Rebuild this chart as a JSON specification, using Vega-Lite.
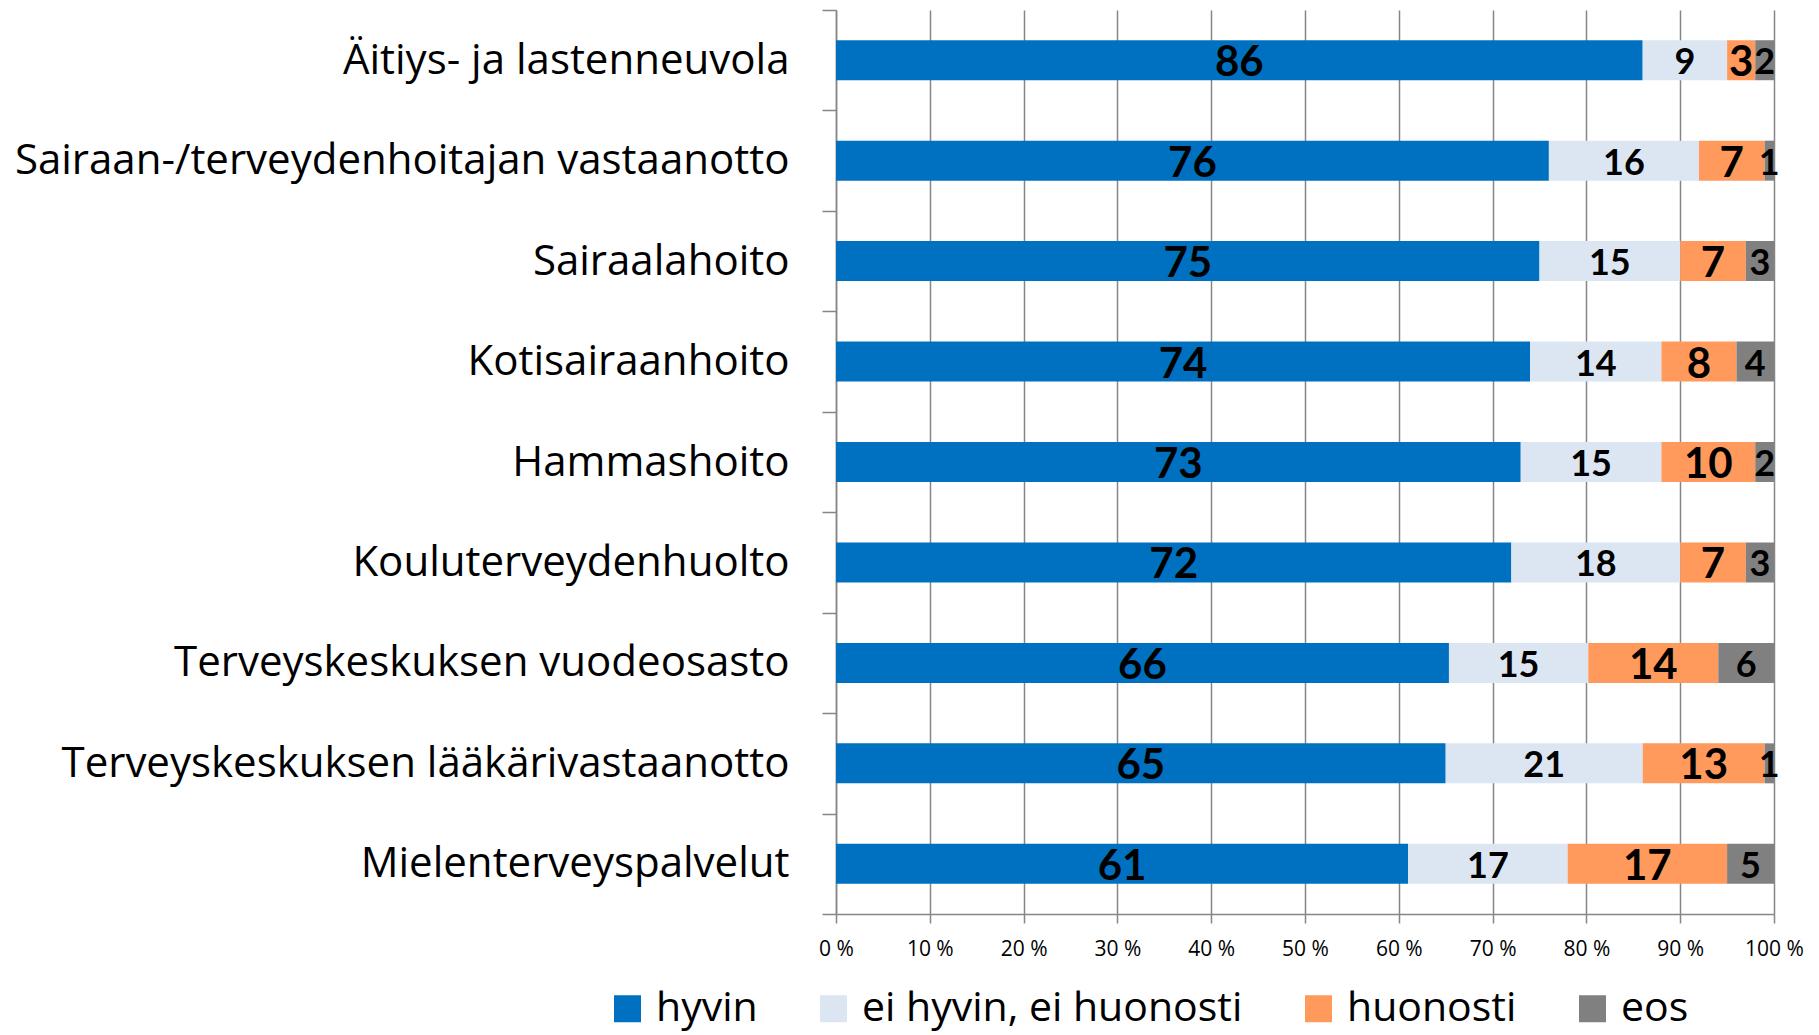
{
  "$schema": "https://vega.github.io/schema/vega-lite/v6.json",
  "autosize": "none",
  "padding": {"left": 836, "top": 10, "right": 45, "bottom": 121},
  "width": 938,
  "height": 904,
  "background": "white",
  "config": {
    "font": "Open Sans",
    "view": {"stroke": null}
  },
  "data": {
    "values": [
      {"cat": "Äitiys- ja lastenneuvola", "k": "hyvin", "o": 1, "v": 86},
      {"cat": "Äitiys- ja lastenneuvola", "k": "ei hyvin, ei huonosti", "o": 2, "v": 9},
      {"cat": "Äitiys- ja lastenneuvola", "k": "huonosti", "o": 3, "v": 3},
      {"cat": "Äitiys- ja lastenneuvola", "k": "eos", "o": 4, "v": 2},
      {"cat": "Sairaan-/terveydenhoitajan vastaanotto", "k": "hyvin", "o": 1, "v": 76},
      {"cat": "Sairaan-/terveydenhoitajan vastaanotto", "k": "ei hyvin, ei huonosti", "o": 2, "v": 16},
      {"cat": "Sairaan-/terveydenhoitajan vastaanotto", "k": "huonosti", "o": 3, "v": 7},
      {"cat": "Sairaan-/terveydenhoitajan vastaanotto", "k": "eos", "o": 4, "v": 1},
      {"cat": "Sairaalahoito", "k": "hyvin", "o": 1, "v": 75},
      {"cat": "Sairaalahoito", "k": "ei hyvin, ei huonosti", "o": 2, "v": 15},
      {"cat": "Sairaalahoito", "k": "huonosti", "o": 3, "v": 7},
      {"cat": "Sairaalahoito", "k": "eos", "o": 4, "v": 3},
      {"cat": "Kotisairaanhoito", "k": "hyvin", "o": 1, "v": 74},
      {"cat": "Kotisairaanhoito", "k": "ei hyvin, ei huonosti", "o": 2, "v": 14},
      {"cat": "Kotisairaanhoito", "k": "huonosti", "o": 3, "v": 8},
      {"cat": "Kotisairaanhoito", "k": "eos", "o": 4, "v": 4},
      {"cat": "Hammashoito", "k": "hyvin", "o": 1, "v": 73},
      {"cat": "Hammashoito", "k": "ei hyvin, ei huonosti", "o": 2, "v": 15},
      {"cat": "Hammashoito", "k": "huonosti", "o": 3, "v": 10},
      {"cat": "Hammashoito", "k": "eos", "o": 4, "v": 2},
      {"cat": "Kouluterveydenhuolto", "k": "hyvin", "o": 1, "v": 72},
      {"cat": "Kouluterveydenhuolto", "k": "ei hyvin, ei huonosti", "o": 2, "v": 18},
      {"cat": "Kouluterveydenhuolto", "k": "huonosti", "o": 3, "v": 7},
      {"cat": "Kouluterveydenhuolto", "k": "eos", "o": 4, "v": 3},
      {"cat": "Terveyskeskuksen vuodeosasto", "k": "hyvin", "o": 1, "v": 66},
      {"cat": "Terveyskeskuksen vuodeosasto", "k": "ei hyvin, ei huonosti", "o": 2, "v": 15},
      {"cat": "Terveyskeskuksen vuodeosasto", "k": "huonosti", "o": 3, "v": 14},
      {"cat": "Terveyskeskuksen vuodeosasto", "k": "eos", "o": 4, "v": 6},
      {"cat": "Terveyskeskuksen lääkärivastaanotto", "k": "hyvin", "o": 1, "v": 65},
      {"cat": "Terveyskeskuksen lääkärivastaanotto", "k": "ei hyvin, ei huonosti", "o": 2, "v": 21},
      {"cat": "Terveyskeskuksen lääkärivastaanotto", "k": "huonosti", "o": 3, "v": 13},
      {"cat": "Terveyskeskuksen lääkärivastaanotto", "k": "eos", "o": 4, "v": 1},
      {"cat": "Mielenterveyspalvelut", "k": "hyvin", "o": 1, "v": 61},
      {"cat": "Mielenterveyspalvelut", "k": "ei hyvin, ei huonosti", "o": 2, "v": 17},
      {"cat": "Mielenterveyspalvelut", "k": "huonosti", "o": 3, "v": 17},
      {"cat": "Mielenterveyspalvelut", "k": "eos", "o": 4, "v": 5}
    ]
  },
  "transform": [
    {"stack": "v", "groupby": ["cat"], "sort": [{"field": "o"}], "as": ["v0", "v1"], "offset": "normalize"},
    {"calculate": "(datum.v0 + datum.v1) / 2", "as": "mid"}
  ],
  "encoding": {
    "y": {
      "field": "cat",
      "type": "nominal",
      "sort": [
        "Äitiys- ja lastenneuvola",
        "Sairaan-/terveydenhoitajan vastaanotto",
        "Sairaalahoito",
        "Kotisairaanhoito",
        "Hammashoito",
        "Kouluterveydenhuolto",
        "Terveyskeskuksen vuodeosasto",
        "Terveyskeskuksen lääkärivastaanotto",
        "Mielenterveyspalvelut"
      ],
      "scale": {"paddingInner": 0, "paddingOuter": 0},
      "axis": {
        "title": null,
        "tickBand": "extent",
        "labelFontSize": 42,
        "labelColor": "black",
        "labelPadding": 33,
        "labelLimit": 900,
        "tickSize": 14,
        "tickColor": "#868686",
        "tickWidth": 1.5,
        "domainColor": "#868686",
        "domainWidth": 1.5,
        "grid": false
      }
    }
  },
  "layer": [
    {
      "mark": {"type": "bar", "height": 40},
      "encoding": {
        "x": {
          "field": "v0",
          "type": "quantitative",
          "scale": {"domain": [0, 1], "nice": false},
          "axis": {
            "title": null,
            "values": [0, 0.1, 0.2, 0.3, 0.4, 0.5, 0.6, 0.7, 0.8, 0.9, 1],
            "labelExpr": "round(datum.value * 100) + ' %'",
            "labelFontSize": 21,
            "labelFlush": false,
            "labelColor": "black",
            "labelPadding": 15,
            "tickSize": 9,
            "tickColor": "#868686",
            "tickWidth": 1.5,
            "domainColor": "#868686",
            "domainWidth": 1.5,
            "grid": true,
            "gridColor": "#868686",
            "gridWidth": 1.5
          }
        },
        "x2": {"field": "v1"},
        "color": {
          "field": "k",
          "type": "nominal",
          "scale": {
            "domain": ["hyvin", "ei hyvin, ei huonosti", "huonosti", "eos"],
            "range": ["#0070C0", "#DCE6F2", "#FF9A5C", "#808080"]
          },
          "legend": {
            "title": null,
            "orient": "none",
            "direction": "horizontal",
            "legendX": -229,
            "legendY": 978,
            "symbolType": "square",
            "symbolSize": 729,
            "symbolStrokeWidth": 0,
            "labelFontSize": 41,
            "labelColor": "black",
            "labelOffset": 8,
            "labelLimit": 800,
            "columnPadding": 55
          }
        }
      }
    },
    {
      "mark": {"type": "text", "font": "Lato", "fontWeight": "bold", "color": "black", "baseline": "middle", "dy": 3},
      "encoding": {
        "x": {"field": "mid", "type": "quantitative"},
        "text": {"field": "v", "type": "quantitative"},
        "size": {
          "condition": {"test": "datum.k === 'hyvin' || datum.k === 'huonosti'", "value": 42},
          "value": 36
        }
      }
    }
  ]
}
